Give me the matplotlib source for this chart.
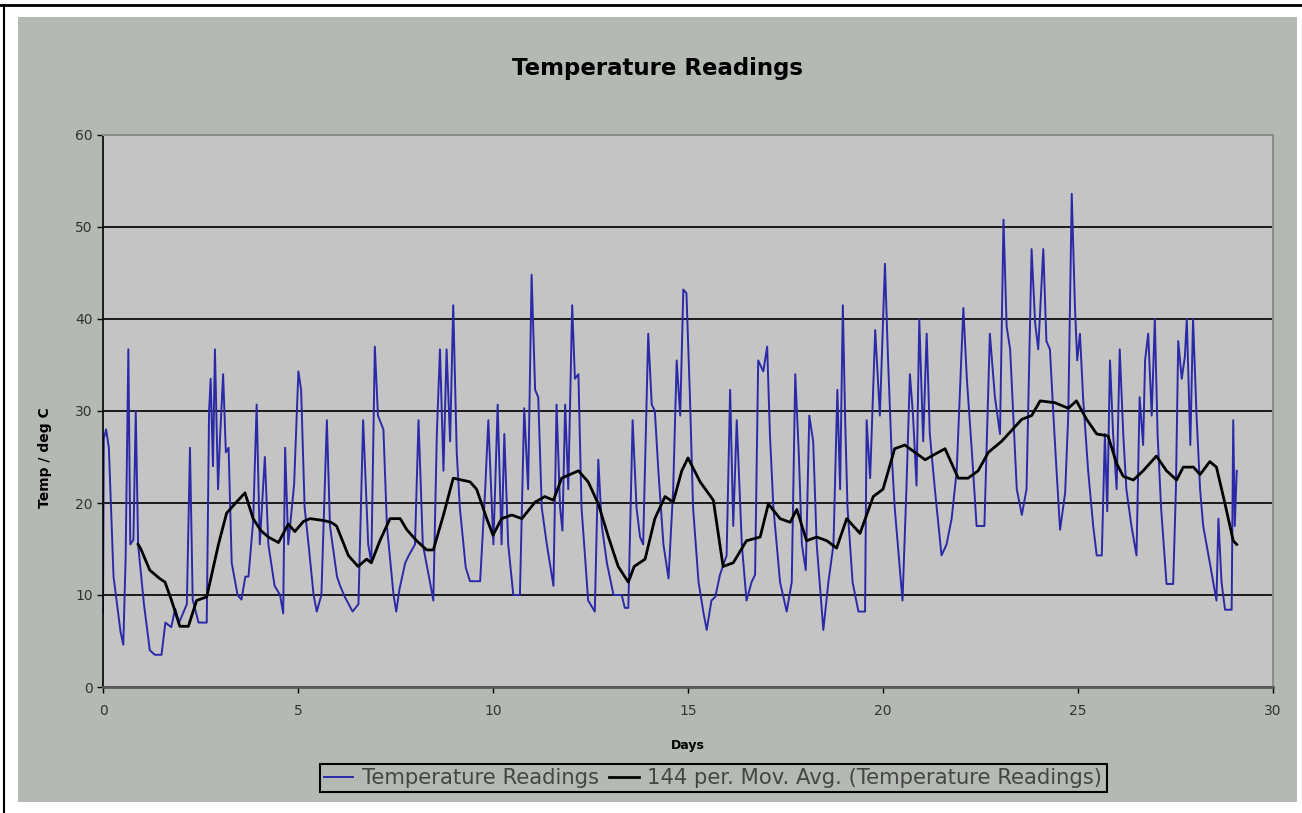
import matplotlib
matplotlib.use("Agg")
import matplotlib.pyplot as plt
from matplotlib.lines import Line2D
from matplotlib.patches import Rectangle

# Readings (day, deg C)
reading_days = [
    0.00, 0.02, 0.08, 0.15, 0.27, 0.45, 0.52, 0.58, 0.65, 0.70, 0.78, 0.84, 0.90,
    1.05, 1.20, 1.33, 1.50, 1.60, 1.75, 1.85, 1.95, 2.05, 2.15, 2.23, 2.30, 2.45,
    2.66, 2.72, 2.76, 2.82, 2.87, 2.95, 3.00, 3.08, 3.15, 3.22, 3.30, 3.45, 3.55,
    3.65, 3.73, 3.85, 3.94, 4.02, 4.15, 4.24, 4.40, 4.54, 4.62, 4.67, 4.75, 4.90,
    5.01, 5.08, 5.17, 5.27, 5.40, 5.48, 5.60, 5.74, 5.82, 6.00, 6.08, 6.20, 6.40,
    6.55, 6.67, 6.80, 6.88, 6.97, 7.05, 7.19, 7.28, 7.45, 7.52, 7.60, 7.75, 7.84,
    8.00, 8.09, 8.20, 8.38, 8.47, 8.56, 8.64, 8.73, 8.81, 8.90, 8.98, 9.07, 9.15,
    9.30, 9.41, 9.67, 9.80, 9.88, 10.01, 10.12, 10.22, 10.29, 10.39, 10.52, 10.69,
    10.80, 10.90, 10.99, 11.08, 11.16, 11.25, 11.38, 11.55, 11.63, 11.72, 11.78,
    11.85, 11.93, 12.03, 12.10, 12.19, 12.27, 12.44, 12.61, 12.70, 12.79, 12.92,
    13.09, 13.30, 13.38, 13.47, 13.58, 13.68, 13.77, 13.85, 13.98, 14.07, 14.15,
    14.24, 14.37, 14.50, 14.62, 14.71, 14.80, 14.88, 14.96, 15.05, 15.13, 15.27,
    15.40, 15.48, 15.60, 15.70, 15.82, 15.99, 16.08, 16.16, 16.25, 16.38, 16.50,
    16.63, 16.72, 16.80, 16.93, 17.03, 17.10, 17.19, 17.36, 17.53, 17.66, 17.75,
    17.84, 17.92, 18.02, 18.11, 18.21, 18.30, 18.47, 18.60, 18.73, 18.83, 18.90,
    18.97, 19.03, 19.09, 19.22, 19.37, 19.54, 19.58, 19.67, 19.80, 19.92, 20.05,
    20.13, 20.22, 20.30, 20.50, 20.60, 20.69, 20.77, 20.86, 20.93, 21.03, 21.12,
    21.20, 21.33, 21.50, 21.63, 21.76, 21.89, 22.06, 22.15, 22.28, 22.40, 22.60,
    22.74, 22.87, 23.00, 23.09, 23.17, 23.26, 23.34, 23.43, 23.56, 23.68, 23.81,
    23.90, 23.98, 24.11, 24.19, 24.28, 24.37, 24.45, 24.54, 24.67, 24.75, 24.84,
    24.92, 24.98, 25.05, 25.13, 25.26, 25.39, 25.48, 25.61, 25.69, 25.75, 25.82,
    25.90, 25.99, 26.07, 26.16, 26.24, 26.37, 26.50, 26.58, 26.67, 26.72, 26.80,
    26.89, 26.97, 27.04, 27.13, 27.27, 27.44, 27.51, 27.57, 27.66, 27.74, 27.79,
    27.88, 27.95, 28.04, 28.13, 28.21, 28.38, 28.55, 28.60, 28.68, 28.77, 28.94,
    28.98, 29.02, 29.07,
]
reading_temps = [
    8, 27, 28, 26, 12, 6, 4.6, 14, 36.7, 15.5, 16, 30, 15.5,
    9, 4, 3.5, 3.5, 7, 6.5, 8.5, 7, 8, 9, 26, 9.5, 7,
    7, 30, 33.5, 24, 36.7, 21.5, 27, 34, 25.5, 26, 13.5, 10, 9.5,
    12, 12, 18, 30.7, 15.5, 25, 15.5, 11, 10, 8, 26, 15.5, 22,
    34.3, 32.3, 19.5, 15.5, 10, 8.2, 10, 29, 17.5, 12, 11, 9.8, 8.2,
    9, 29, 15.5, 13.5, 37, 29.5, 28, 17.5, 10, 8.2, 10.6, 13.5, 14.3,
    15.5, 29, 15.5, 11.5, 9.4, 27.5, 36.7, 23.5, 36.7, 26.7, 41.5, 25.5, 19.5,
    13, 11.5, 11.5, 21.5, 29, 15.5, 30.7, 15.5, 27.5, 15.5, 10, 10,
    30.3, 21.5, 44.8, 32.3, 31.5, 19.5, 15.5, 11, 30.7, 19.5, 17,
    30.7, 21.5, 41.5, 33.5, 34, 19.5, 9.4, 8.2, 24.7, 17.5, 13.5,
    10, 10, 8.6, 8.6, 29, 19.5, 16.3, 15.5, 38.4, 30.7, 30,
    23.5, 15.5, 11.8, 21.5, 35.5, 29.5, 43.2, 42.8, 31.5, 19.5, 11.4,
    8, 6.2, 9.4, 9.8, 12.2, 14.3, 32.3, 17.5, 29, 15.5, 9.4,
    11.4, 12.2, 35.5, 34.3, 37, 27.5, 19.5, 11.4, 8.2, 11.4, 34,
    25.5, 15.5, 12.7, 29.5, 26.7, 15.5, 6.2, 11.4, 15.5, 32.3, 21.5,
    41.5, 29, 19.5, 11.4, 8.2, 8.2, 29, 22.7, 38.8, 29.5, 46,
    35.5, 25.5, 19.5, 9.4, 21.5, 34, 29.5, 21.9, 40, 26.7, 38.4,
    27.5, 21.5, 14.3, 15.5, 18.3, 23.5, 41.2, 33.5, 25.5, 17.5, 17.5,
    38.4, 31.5, 27.5, 50.8, 39.2, 36.7, 29.5, 21.5, 18.7, 21.5, 47.6,
    39.6, 36.7, 47.6, 37.6, 36.7, 29.5, 23.5, 17.1, 21.1, 29.5, 53.6,
    41.5, 35.5, 38.4, 31.5, 23.5, 17.5, 14.3, 14.3, 27.5, 19.1, 35.5,
    27.5, 21.5, 36.7, 27.5, 21.5, 17.5, 14.3, 31.5, 26.3, 35.5, 38.4,
    29.5, 40, 27.5, 19.5, 11.2, 11.2, 21.5, 37.6, 33.5, 35.9, 40,
    26.3, 40, 29.5, 21.5, 17.5, 13.5, 9.4, 18.3, 11.4, 8.4, 8.4,
    29, 17.5, 23.5,
]

# 144 per. moving average
avg_days = [
    0.90, 0.97, 1.20, 1.45, 1.59, 1.75, 1.85, 1.97, 2.19, 2.40, 2.66, 2.96, 3.17,
    3.40, 3.64, 3.85, 4.05, 4.24, 4.50, 4.75, 4.92, 5.14, 5.31, 5.65, 5.85, 5.99,
    6.29, 6.54, 6.76, 6.88, 7.10, 7.36, 7.62, 7.79, 8.04, 8.30, 8.47, 8.73, 8.98,
    9.41, 9.58, 9.84, 10.00, 10.22, 10.48, 10.74, 11.08, 11.33, 11.55, 11.76, 12.19,
    12.44, 12.70, 12.96, 13.21, 13.47, 13.62, 13.90, 14.15, 14.41, 14.62, 14.84,
    15.00, 15.31, 15.65, 15.90, 16.16, 16.50, 16.85, 17.06, 17.36, 17.62, 17.79,
    18.04, 18.30, 18.56, 18.81, 19.07, 19.41, 19.75, 20.00, 20.30, 20.56, 20.82,
    21.08, 21.33, 21.59, 21.93, 22.18, 22.44, 22.70, 23.04, 23.30, 23.56, 23.81,
    24.03, 24.41, 24.75, 24.96, 25.22, 25.48, 25.77, 25.99, 26.16, 26.42, 26.67,
    27.01, 27.27, 27.53, 27.70, 27.96, 28.13, 28.38, 28.55, 28.77, 28.98, 29.07,
]
avg_temps = [
    15.5, 15, 12.7, 11.8, 11.4, 9.5, 8.2, 6.6, 6.6, 9.4, 9.8, 15.5, 18.9,
    20, 21.1, 18.3, 17, 16.3, 15.7, 17.7, 16.9, 18, 18.3, 18.1, 17.9, 17.5,
    14.3, 13.1, 13.9, 13.5, 15.9, 18.3, 18.3, 17.1, 15.9, 14.9, 14.9, 18.7, 22.7,
    22.3, 21.5, 18.3, 16.5, 18.3, 18.7, 18.3, 20.1, 20.7, 20.3, 22.7, 23.5,
    22.3, 19.9, 16.3, 13.1, 11.4, 13.1, 13.9, 18.3, 20.7, 20.1, 23.5,
    24.9, 22.3, 20.3, 13.1, 13.5, 15.9, 16.3, 19.9, 18.3, 17.9, 19.3,
    15.9, 16.3, 15.9, 15.1, 18.3, 16.7, 20.7, 21.5, 25.9, 26.3, 25.5,
    24.7, 25.3, 25.9, 22.7, 22.7, 23.5, 25.5, 26.7, 27.9, 29.1, 29.5,
    31.1, 30.9, 30.3, 31.1, 29.1, 27.5, 27.3, 24.3, 22.9, 22.5, 23.5,
    25.1, 23.5, 22.5, 23.9, 23.9, 23.1, 24.5, 23.9, 19.9, 15.9, 15.5,
]

x_ticks = [0, 5, 10, 15, 20, 25, 30]
y_ticks = [0, 10, 20, 30, 40, 50, 60]

W, H = 1302, 813
chart_grey = "#B4B9B3"

fig = plt.figure(figsize=(W / 100, H / 100), dpi=100, facecolor="white")

# grey chart area and the black frame lines at top / left
fig.patches.append(Rectangle((18 / W, 1 - 802 / H), (1297 - 18) / W, (802 - 17) / H,
                             transform=fig.transFigure, facecolor=chart_grey,
                             edgecolor="none", zorder=-5))
fig.lines.append(Line2D([0, 1], [1 - 5 / H, 1 - 5 / H], transform=fig.transFigure,
                        color="black", lw=2, zorder=-4))
fig.lines.append(Line2D([4 / W, 4 / W], [0, 1 - 5 / H], transform=fig.transFigure,
                        color="black", lw=1.5, zorder=-4))

ax = fig.add_axes([103 / W, 1 - 687 / H, 1170 / W, 552 / H])
ax.set_zorder(3)
ax.set_facecolor("#C4C4C4")

line_r, = ax.plot(reading_days, reading_temps, color="#2A2AA8", lw=1.4,
                  label="Temperature Readings")
line_a, = ax.plot(avg_days, avg_temps, color="black", lw=2.0,
                  label="144 per. Mov. Avg. (Temperature Readings)")

ax.set_xlim(0, 30)
ax.set_ylim(0, 60)
ax.set_xticks(x_ticks)
ax.set_yticks(y_ticks)
ax.yaxis.grid(True, color="#1A1A1A", lw=1.4)
ax.set_axisbelow(True)

ax.spines["left"].set_color("black")
ax.spines["left"].set_linewidth(1.2)
ax.spines["bottom"].set_color("#5A5A5A")
ax.spines["bottom"].set_linewidth(2)
for s in ("top", "right"):
    ax.spines[s].set_color("#8C8C8C")
    ax.spines[s].set_linewidth(1.5)

ax.tick_params(axis="both", direction="out", length=4, width=1, color="black",
               labelsize=10, labelcolor="#333333")
ax.tick_params(axis="x", pad=8)

fig.text(657 / W, 1 - 68 / H, "Temperature Readings", ha="center", va="center",
         fontsize=16.5, fontweight="bold", color="black")
fig.text(45 / W, 1 - 458 / H, "Temp / deg C", ha="center", va="center",
         rotation=90, fontsize=10, fontweight="bold", color="black")
fig.text(688 / W, 1 - 745 / H, "Days", ha="center", va="center",
         fontsize=9, fontweight="bold", color="black")

leg = fig.legend(handles=[line_r, line_a], loc="center",
                 bbox_to_anchor=(713 / W, 1 - 778 / H), ncol=2,
                 fontsize=15.2, frameon=True, fancybox=False, framealpha=1,
                 edgecolor="black", facecolor=chart_grey, handlelength=1.4,
                 handletextpad=0.4, columnspacing=0.5, borderpad=0.2)
leg.get_frame().set_linewidth(1.5)
for t in leg.get_texts():
    t.set_color("#454545")

fig.savefig("out.png", dpi=100, facecolor="white")
